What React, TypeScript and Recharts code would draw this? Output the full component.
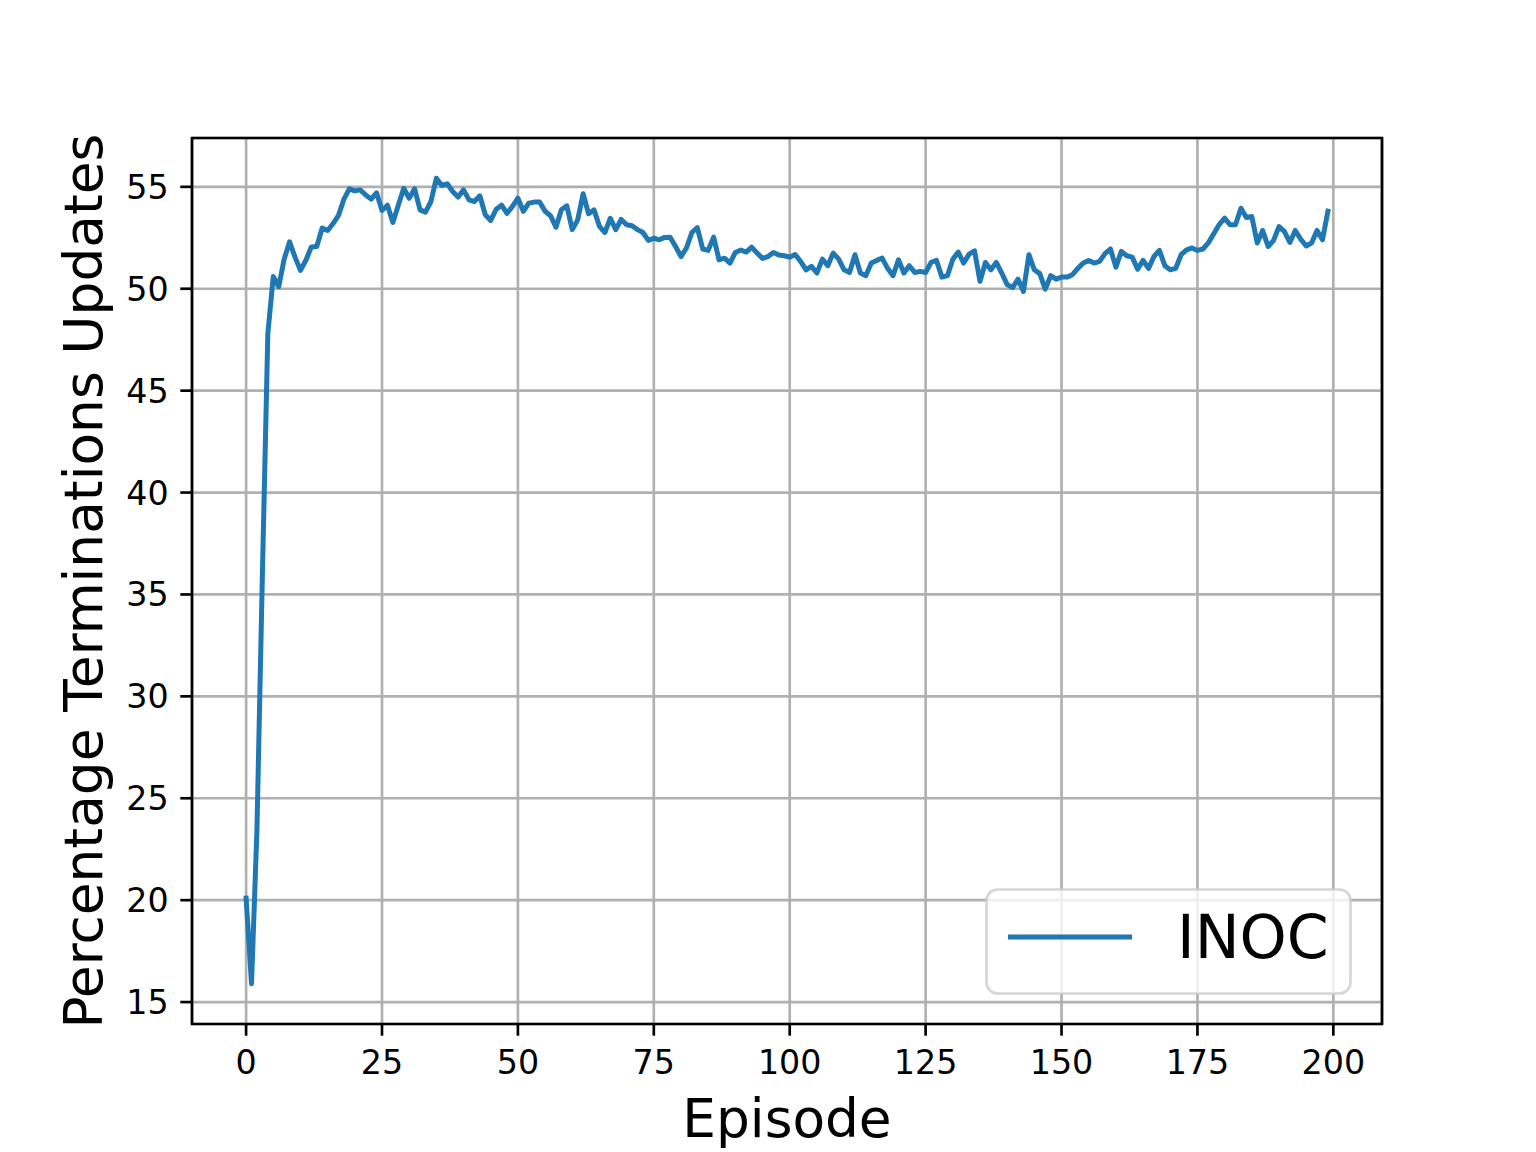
import React from "react";
import {
  LineChart,
  Line,
  XAxis,
  YAxis,
  CartesianGrid,
  ReferenceArea,
} from "recharts";

const seriesName = "INOC";
const xTicks = [0, 25, 50, 75, 100, 125, 150, 175, 200];
const yTicks = [15, 20, 25, 30, 35, 40, 45, 50, 55];

const values: number[] = [
  20.1, 15.9, 23.5, 36.0, 47.8, 50.6, 50.1, 51.45, 52.3, 51.55,
  50.9, 51.4, 52.05, 52.07, 52.98, 52.86, 53.2, 53.6, 54.4, 54.9,
  54.8, 54.85, 54.6, 54.4, 54.7, 53.84, 54.1, 53.25, 54.1, 54.93,
  54.44, 54.9, 53.87, 53.76, 54.28, 55.42, 55.07, 55.15, 54.77, 54.5,
  54.85, 54.36, 54.28, 54.56, 53.63, 53.35, 53.9, 54.1, 53.7, 54.04,
  54.44, 53.8, 54.2, 54.25, 54.25, 53.8, 53.58, 53.02, 53.87, 54.07,
  52.9, 53.38, 54.66, 53.68, 53.87, 53.06, 52.76, 53.46, 52.9, 53.4,
  53.14, 53.09, 52.9, 52.76, 52.37, 52.48, 52.4, 52.52, 52.53, 52.07,
  51.58, 52.0, 52.76, 53.0, 51.95, 51.88, 52.53, 51.42, 51.5, 51.26,
  51.78, 51.9, 51.8, 52.04, 51.75, 51.49, 51.58, 51.78, 51.65, 51.62,
  51.55, 51.68, 51.34, 50.93, 51.1, 50.77, 51.45, 51.13, 51.75, 51.45,
  50.93, 50.8, 51.67, 50.77, 50.64, 51.26, 51.39, 51.5, 51.0, 50.64,
  51.42, 50.77, 51.13, 50.8, 50.85, 50.8, 51.29, 51.39, 50.57, 50.64,
  51.45, 51.8, 51.26, 51.7, 51.86, 50.36, 51.29, 50.93, 51.29, 50.77,
  50.2, 50.06, 50.47, 49.87, 51.67, 50.93, 50.74, 49.98, 50.64, 50.47,
  50.57, 50.57, 50.69, 51.0, 51.26, 51.39, 51.26, 51.34, 51.72, 51.95,
  51.06, 51.83, 51.62, 51.55, 50.96, 51.39, 51.0, 51.58, 51.88, 51.13,
  50.93, 51.0, 51.67, 51.91, 52.0, 51.88, 51.95, 52.25, 52.7, 53.15,
  53.46, 53.14, 53.14, 53.95, 53.5, 53.54, 52.24, 52.86, 52.07, 52.37,
  53.05, 52.8, 52.27, 52.86, 52.43, 52.1, 52.24, 52.86, 52.4, 53.8,
];

const episodes: number[] = values.map((_, i) => i);
const data = episodes.map((e, i) => ({ episode: e, value: values[i] }));

// matplotlib-like 5% margins
const xMin = Math.min(...episodes);
const xMax = Math.max(...episodes);
const xPad = (xMax - xMin) * 0.05;
const yMin = Math.min(...values);
const yMax = Math.max(...values);
const yPad = (yMax - yMin) * 0.05;
const xDomain: [number, number] = [xMin - xPad, xMax + xPad];
const yDomain: [number, number] = [yMin - yPad, yMax + yPad];

const FONT = "'DejaVu Sans', sans-serif";
const BLUE = "#1f77b4";
const TICK_FS = 33.3;
const LABEL_FS = 53.3;

const XTick = (props: any) => {
  const { x, y, payload } = props;
  return (
    <text x={x} y={y} dy={27} textAnchor="middle" fontFamily={FONT} fontSize={TICK_FS} fill="#000">
      {payload.value}
    </text>
  );
};

const YTick = (props: any) => {
  const { x, y, payload } = props;
  return (
    <text x={x} y={y} dy={12} textAnchor="end" fontFamily={FONT} fontSize={TICK_FS} fill="#000">
      {payload.value}
    </text>
  );
};

const LegendBox = () => (
  <svg width={367} height={107} style={{ display: "block" }}>
    <rect x={1.5} y={1.5} width={364} height={104} rx={11} ry={11}
      fill="#ffffff" fillOpacity={0.8} stroke="#cccccc" strokeOpacity={0.8} strokeWidth={2.67} />
    <line x1={23} y1={49} x2={147} y2={49} stroke={BLUE} strokeWidth={5} />
    <text x={192} y={70} fontFamily={FONT} fontSize={60} fill="#000">{seriesName}</text>
  </svg>
);

export default function App() {
  return (
    <div style={{ position: "absolute", left: 0, top: 0, width: 1536, height: 1152, background: "#fff" }}>
      <LineChart
        width={1536}
        height={1152}
        data={data}
        margin={{ top: 138, right: 154, bottom: 28, left: 92 }}
      >
        <CartesianGrid stroke="#b0b0b0" strokeWidth={2.67} />
        <XAxis
          dataKey="episode"
          type="number"
          domain={xDomain}
          ticks={xTicks}
          allowDataOverflow
          height={100}
          axisLine={false}
          tickLine={{ stroke: "#000", strokeWidth: 2.67 }}
          tickSize={11.7}
          tickMargin={11.7}
          tick={<XTick />}
          interval={0}
          label={{
            value: "Episode",
            position: "insideBottom",
            content: (p: any) => {
              const vb = p.viewBox;
              return (
                <text x={vb.x + vb.width / 2} y={1137} textAnchor="middle" fontFamily={FONT} fontSize={LABEL_FS} fill="#000">
                  Episode
                </text>
              );
            },
          }}
        />
        <YAxis
          type="number"
          domain={yDomain}
          ticks={yTicks}
          allowDataOverflow
          width={100}
          axisLine={false}
          tickLine={{ stroke: "#000", strokeWidth: 2.67 }}
          tickSize={11.7}
          tickMargin={11.7}
          tick={<YTick />}
          interval={0}
          label={{
            value: "Percentage Terminations Updates",
            position: "insideLeft",
            content: (p: any) => {
              const vb = p.viewBox;
              const cy = vb.y + vb.height / 2;
              return (
                <text
                  x={0}
                  y={0}
                  transform={`translate(102, ${cy}) rotate(-90)`}
                  textAnchor="middle"
                  fontFamily={FONT}
                  fontSize={LABEL_FS}
                  fill="#000"
                >
                  Percentage Terminations Updates
                </text>
              );
            },
          }}
        />
        <Line
          type="linear"
          dataKey="value"
          name={seriesName}
          stroke={BLUE}
          strokeWidth={5}
          strokeLinejoin="round"
          strokeLinecap="square"
          dot={false}
          activeDot={false}
          isAnimationActive={false}
        />
        <ReferenceArea
          x1={xDomain[0]}
          x2={xDomain[1]}
          y1={yDomain[0]}
          y2={yDomain[1]}
          fill="none"
          stroke="#000"
          strokeWidth={2.67}
          ifOverflow="visible"
        />
      </LineChart>
      <div style={{ position: "absolute", left: 985, top: 888, width: 367, height: 107 }}>
        <LegendBox />
      </div>
    </div>
  );
}
